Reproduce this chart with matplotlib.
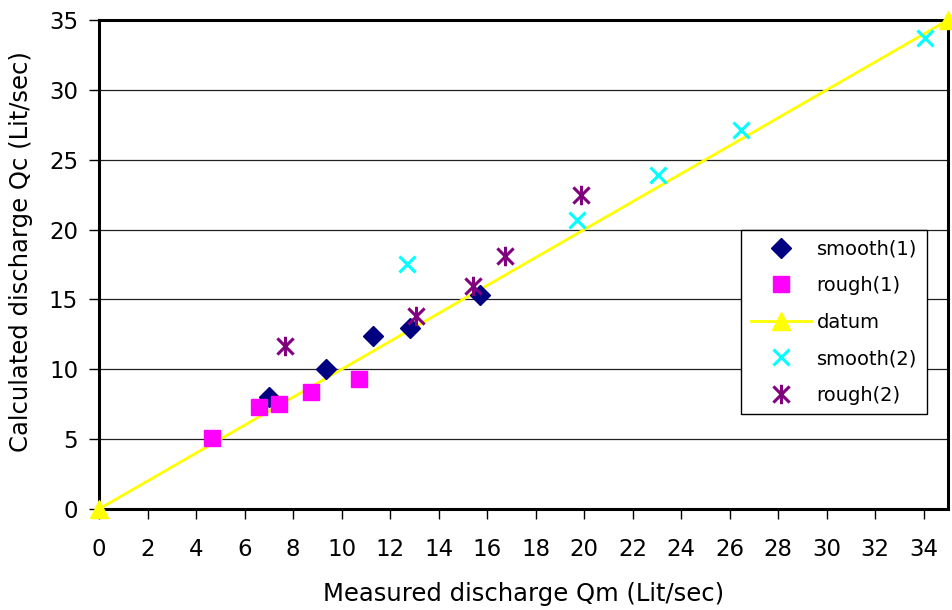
import numpy as np
import matplotlib
matplotlib.use('Agg')
import matplotlib.pyplot as plt
from matplotlib.path import Path

# reference font is stretched wide, DejaVu matches its proportions better than Arial
plt.rcParams['font.family'] = ['DejaVu Sans']

# data
smooth1_x = [7.0, 9.35, 11.3, 12.8, 15.7]
smooth1_y = [8.05, 10.05, 12.4, 12.95, 15.35]

rough1_x = [4.65, 6.6, 7.4, 8.75, 10.7]
rough1_y = [5.1, 7.3, 7.55, 8.35, 9.3]

datum_x = [0, 35]
datum_y = [0, 35]

smooth2_x = [12.7, 19.7, 23.05, 26.45, 34.05]
smooth2_y = [17.5, 20.7, 23.9, 27.1, 33.7]

rough2_x = [7.65, 13.05, 15.4, 16.75, 19.85]
rough2_y = [11.65, 13.8, 15.95, 18.1, 22.45]

x_ticks = list(range(0, 36, 2))
y_ticks = list(range(0, 36, 5))

# Excel-style asterisk: x plus a vertical bar
star = Path([(-0.5, -0.5), (0.5, 0.5), (-0.5, 0.5), (0.5, -0.5), (0, -0.6), (0, 0.6)],
            [Path.MOVETO, Path.LINETO, Path.MOVETO, Path.LINETO, Path.MOVETO, Path.LINETO])

fig = plt.figure(figsize=(9.53, 6.10), dpi=100)
ax = fig.add_axes([0.1039, 0.1656, 0.8909, 0.8016])

ax.plot(smooth1_x, smooth1_y, 'D', color='#000080', markersize=10, label='smooth(1)', zorder=4)
ax.plot(rough1_x, rough1_y, 's', color='#FF00FF', markersize=12, label='rough(1)', zorder=4)
ax.plot(datum_x, datum_y, '-^', color='#FFFF00', linewidth=2, markersize=13,
        label='datum', zorder=3, clip_on=False)
ax.plot(smooth2_x, smooth2_y, 'x', color='#00FFFF', markersize=12, markeredgewidth=2.2,
        label='smooth(2)', zorder=4)
ax.plot(rough2_x, rough2_y, marker=star, linestyle='none', color='#800080', markersize=14,
        markeredgewidth=2.2, label='rough(2)', zorder=4)

ax.set_xlim(0, 35)
ax.set_ylim(0, 35)
ax.set_xticks(x_ticks)
ax.set_yticks(y_ticks)
ax.tick_params(direction='out', length=7, width=1, labelsize=16.5)
ax.tick_params(axis='x', pad=14)
ax.tick_params(axis='y', pad=8)
ax.yaxis.grid(True, color='#202020', linewidth=0.9)
ax.set_axisbelow(True)
for s in ax.spines.values():
    s.set_linewidth(2.2)
    s.set_color('black')

ax.set_xlabel('Measured discharge Qm (Lit/sec)', fontsize=17.5)
ax.set_ylabel('Calculated discharge Qc (Lit/sec)', fontsize=17.5)
ax.xaxis.set_label_coords(0.5, -0.15)
ax.yaxis.set_label_coords(-0.078, 0.527)

leg = ax.legend(loc='upper left', bbox_to_anchor=(0.756, 0.471, 0.219, 0.1), mode='expand',
                fontsize=14, frameon=True, fancybox=False, edgecolor='black',
                borderaxespad=0, borderpad=0.5, handlelength=3.1, handletextpad=0.3,
                labelspacing=0.9)
leg.get_frame().set_linewidth(1)
leg.get_frame().set_alpha(1)

plt.savefig('out.png', dpi=100)
